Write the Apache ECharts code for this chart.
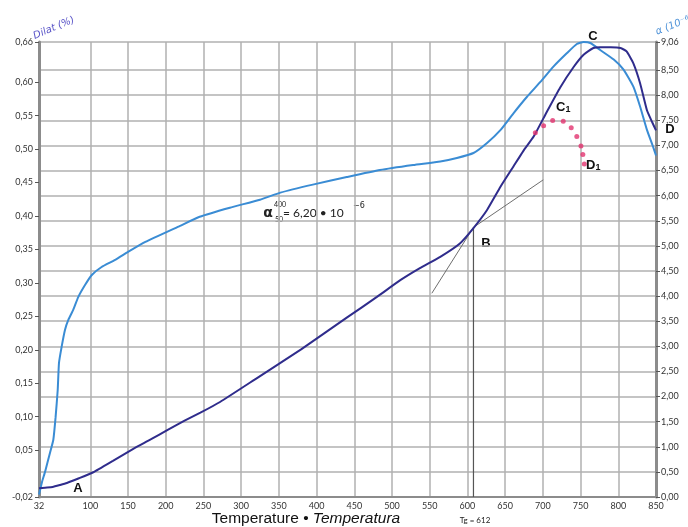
<!DOCTYPE html>
<html><head><meta charset="utf-8">
<script src="https://cdn.jsdelivr.net/npm/echarts@6/dist/echarts.min.js"></script>
<style>html,body{margin:0;padding:0;background:#fff}#c{width:688px;height:527px}</style>
</head><body><div id="c"></div>
<script>
// ---- data ----
const xTicks = [32,100,150,200,250,300,350,400,450,500,550,600,650,700,750,800,850];
const leftTicks = [-0.02,0.05,0.10,0.15,0.20,0.25,0.30,0.35,0.40,0.45,0.50,0.55,0.60,0.66];
const rightTicks = [0,0.5,1,1.5,2,2.5,3,3.5,4,4.5,5,5.5,6,6.5,7,7.5,8,8.5,9.06];
// dilatation curve (%), left axis
const dilatCurve = [[32,-0.007],[40,-0.006],[50,-0.005],[60,-0.002],[69,0.001],[85,0.008],[104,0.017],[130,0.034],[157,0.052],[180,0.066],[202,0.080],[225,0.094],[246,0.106],[272,0.122],[320,0.157],[380,0.201],[440,0.248],[480,0.279],[511,0.304],[537,0.322],[564,0.339],[590,0.359],[608,0.382],[626,0.409],[644,0.444],[661,0.474],[674,0.497],[688,0.519],[705,0.555],[723,0.592],[741,0.623],[754,0.641],[767,0.651],[776,0.652],[790,0.652],[803,0.651],[811,0.646],[820,0.628],[829,0.598],[838,0.558],[845,0.540],[850,0.528]];
// expansion coefficient curve (10^-6), right axis
const alphaCurve = [[32,0.05],[36,0.3],[40,0.5],[46.6,0.88],[51,1.14],[54,1.59],[56.8,2.13],[58.5,2.67],[62,2.99],[66.5,3.33],[71,3.53],[77.5,3.73],[84,3.98],[93,4.22],[102,4.42],[115,4.58],[133,4.72],[150,4.88],[173,5.08],[219,5.40],[245,5.58],[285,5.76],[325,5.92],[352,6.06],[395,6.22],[440,6.37],[484,6.51],[528,6.61],[564,6.68],[586,6.75],[608,6.85],[626,7.05],[644,7.31],[661,7.64],[679,7.97],[697,8.27],[714,8.57],[732,8.84],[745,9.02],[754,9.06],[763,9.04],[776,8.90],[794,8.71],[807,8.51],[820,8.17],[829,7.77],[838,7.31],[846,6.98],[850,6.80]];
// C1-D1 dotted branch, left axis
const c1d1Dots = [[690,0.5245],[701,0.535],[713,0.5425],[727,0.5416],[737.6,0.532],[745,0.5186],[750.5,0.5047],[753,0.4917],[755,0.4778]];
// tangent lines and Tg marker, left axis
const tangentLow = [[608,0.383],[700.5,0.454]];
const tangentHigh = [[552.8,0.2845],[608,0.383]];
const tgLine = [[608,-0.02],[608,0.383]];

const fmt = v => (v<0?'-':'') + Math.abs(v).toFixed(2).replace('.', ',');
const lblFont = 'Lato, "Open Sans", sans-serif';

const chart = echarts.init(document.getElementById('c'));
chart.setOption({
  animation:false,
  backgroundColor:'#fff',
  grid:{left:39,right:32,top:42,bottom:30,containLabel:false},
  xAxis:{type:'value',min:32,max:850,
    axisLine:{show:true,onZero:false,lineStyle:{color:'#8c8c8c',width:2}},
    axisTick:{show:false,customValues:xTicks},
    axisLabel:{customValues:xTicks,color:'#333',fontSize:9,margin:5,fontFamily:lblFont,showMinLabel:true,showMaxLabel:true},
    splitLine:{show:true,lineStyle:{color:'#b0b0b0',width:1.5}}},
  yAxis:[
    {type:'value',min:-0.02,max:0.66,position:'left',
      axisLine:{show:true,onZero:false,lineStyle:{color:'#8c8c8c',width:3}},
      axisTick:{show:true,inside:false,length:4,customValues:leftTicks,lineStyle:{color:'#555',width:1}},
      axisLabel:{customValues:leftTicks,formatter:fmt,color:'#333',fontSize:9,margin:6,fontFamily:lblFont},
      splitLine:{show:false}},
    {type:'value',min:0,max:9.06,position:'right',
      axisLine:{show:true,onZero:false,lineStyle:{color:'#8c8c8c',width:3}},
      axisTick:{show:true,inside:false,length:4,customValues:rightTicks,lineStyle:{color:'#555',width:1}},
      axisLabel:{customValues:rightTicks,formatter:fmt,color:'#333',fontSize:9,margin:5,fontFamily:lblFont},
      splitLine:{show:true,lineStyle:{color:'#b0b0b0',width:1.5}}}
  ],
  series:[
    {type:'line',name:'tg',data:tgLine,yAxisIndex:0,showSymbol:false,lineStyle:{color:'#555',width:1.2},z:3},
    {type:'line',name:'t1',data:tangentLow,yAxisIndex:0,showSymbol:false,lineStyle:{color:'#6e6e6e',width:1},z:3},
    {type:'line',name:'t2',data:tangentHigh,yAxisIndex:0,showSymbol:false,lineStyle:{color:'#6e6e6e',width:1},z:3},
    {type:'line',name:'alpha',data:alphaCurve,yAxisIndex:1,showSymbol:false,smooth:0.15,lineStyle:{color:'#3a8cd4',width:2},z:4},
    {type:'line',name:'dilat',data:dilatCurve,yAxisIndex:0,showSymbol:false,smooth:0.15,lineStyle:{color:'#2f2c8c',width:2},z:5},
    {type:'scatter',name:'c1d1',data:c1d1Dots,yAxisIndex:0,symbolSize:5,itemStyle:{color:'#e2336f'},z:6}
  ],
  graphic:[
    {type:'text',x:54,y:28,rotation:0.4,style:{text:'Dilat (%)',fill:'#5a55c8',font:'italic 10px "DejaVu Sans", sans-serif',align:'center',verticalAlign:'middle'}},
    {type:'text',x:658,y:37,rotation:0.38,style:{text:'α (10⁻⁶)',fill:'#4f93d8',font:'italic 10px "DejaVu Sans", sans-serif',align:'left',verticalAlign:'bottom'}},
    {type:'text',x:78,y:488,style:{text:'A',fill:'#111',font:'bold 13px "Liberation Sans", Arial, sans-serif',align:'center',verticalAlign:'middle'}},
    {type:'text',x:486,y:243,style:{text:'B',fill:'#111',font:'bold 13px "Liberation Sans", Arial, sans-serif',align:'center',verticalAlign:'middle'}},
    {type:'text',x:593,y:36,style:{text:'C',fill:'#111',font:'bold 13px "Liberation Sans", Arial, sans-serif',align:'center',verticalAlign:'middle'}},
    {type:'text',x:670,y:129,style:{text:'D',fill:'#111',font:'bold 13px "Liberation Sans", Arial, sans-serif',align:'center',verticalAlign:'middle'}},
    {type:'text',x:556,y:107,style:{text:'{a|C}{s|1}',rich:{a:{font:'bold 13px "Liberation Sans", Arial, sans-serif',fill:'#111'},s:{font:'bold 9px "Liberation Sans", Arial, sans-serif',fill:'#111',padding:[5,0,0,0]}},verticalAlign:'middle'}},
    {type:'text',x:586,y:165,style:{text:'{a|D}{s|1}',rich:{a:{font:'bold 13px "Liberation Sans", Arial, sans-serif',fill:'#111'},s:{font:'bold 9px "Liberation Sans", Arial, sans-serif',fill:'#111',padding:[5,0,0,0]}},verticalAlign:'middle'}},
    {type:'text',x:268,y:213,style:{text:'α',fill:'#222',font:'bold 14px "DejaVu Sans", sans-serif',align:'center',verticalAlign:'middle'}},
    {type:'text',x:280,y:205,style:{text:'400',fill:'#222',font:'7px Lato, sans-serif',align:'center',verticalAlign:'middle'}},
    {type:'text',x:279,y:220,style:{text:'50',fill:'#222',font:'7px Lato, sans-serif',align:'center',verticalAlign:'middle'}},
    {type:'text',x:283,y:213,style:{text:'= 6,20 • 10',fill:'#222',font:'12px Lato, sans-serif',align:'left',verticalAlign:'middle'}},
    {type:'text',x:353,y:206,style:{text:'−6',fill:'#222',font:'8px "DejaVu Sans", sans-serif',align:'left',verticalAlign:'middle'}},
    {type:'text',x:306,y:519,style:{text:'{n|Temperature • }{i|Temperatura}',rich:{n:{font:'15.5px "Liberation Sans", Arial, sans-serif',fill:'#111'},i:{font:'italic 15.5px "Liberation Sans", Arial, sans-serif',fill:'#111'}},align:'center',verticalAlign:'middle'}},
    {type:'text',x:475,y:520,style:{text:'Tg = 612',fill:'#222',font:'8px Lato, sans-serif',align:'center',verticalAlign:'middle'}}
  ]
});
</script></body></html>
